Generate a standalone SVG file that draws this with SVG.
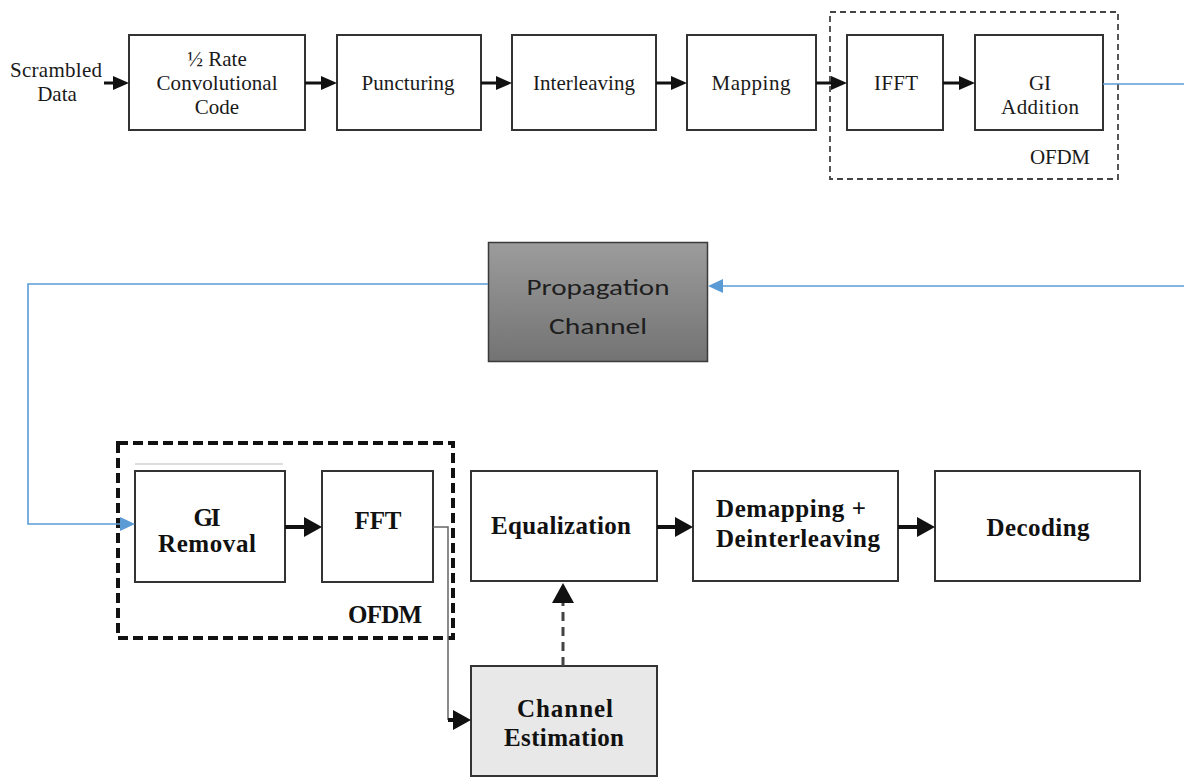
<svg xmlns="http://www.w3.org/2000/svg" width="1184" height="777" viewBox="0 0 1184 777">
<style>
.box{fill:#fff;stroke:#333;stroke-width:2}
.t{font-family:"Liberation Serif","Times New Roman",serif;font-size:21px;fill:#1a1a1a;text-anchor:middle}
.b{font-family:"Liberation Serif","Times New Roman",serif;font-size:25px;font-weight:bold;fill:#111;text-anchor:middle}
.ca{font-family:Carlito,Calibri,"Open Sans",sans-serif;font-size:23px;fill:#1e1e1e;text-anchor:middle}
.ar1{stroke:#111;stroke-width:3;fill:none}
.ar2{stroke:#111;stroke-width:4;fill:none}
.blue{stroke:#5b9bd5;stroke-width:1.6;fill:none}
</style>
<defs>
<marker id="a" markerUnits="userSpaceOnUse" viewBox="0 0 16 14" markerWidth="16" markerHeight="14" refX="8" refY="7" orient="auto"><path d="M0,0 L16,7 L0,14 Z" fill="#111"/></marker>
<marker id="b" markerUnits="userSpaceOnUse" viewBox="0 0 18 20" markerWidth="18" markerHeight="20" refX="9" refY="10" orient="auto"><path d="M0,0 L18,10 L0,20 Z" fill="#111"/></marker>
<marker id="c" markerUnits="userSpaceOnUse" viewBox="0 0 20 22" markerWidth="20" markerHeight="22" refX="8" refY="11" orient="auto"><path d="M0,0 L20,11 L0,22 Z" fill="#111"/></marker>
<marker id="bl" markerUnits="userSpaceOnUse" viewBox="0 0 15 14" markerWidth="15" markerHeight="14" refX="10" refY="7" orient="auto"><path d="M0,0 L15,7 L0,14 Z" fill="#5b9bd5"/></marker>
<linearGradient id="gr" x1="0" y1="0" x2="0" y2="1"><stop offset="0" stop-color="#9c9c9c"/><stop offset="1" stop-color="#737373"/></linearGradient>
</defs>

<g id="ofdm-tx">
<rect x="830" y="12" width="288" height="167" fill="none" stroke="#444" stroke-width="1.8" stroke-dasharray="6 4"/>
<text class="t" x="1060" y="164" textLength="60" lengthAdjust="spacing">OFDM</text>
</g>
<g id="ofdm-rx">
<rect x="118" y="443" width="335" height="195" fill="none" stroke="#111" stroke-width="4" stroke-dasharray="10 5"/>
<text class="b" x="385" y="623" textLength="74" lengthAdjust="spacing">OFDM</text>
</g>

<g id="scrambled">
<text class="t" x="56" y="77" font-size="18" textLength="92" lengthAdjust="spacing">Scrambled</text>
<text class="t" x="57" y="101" font-size="18">Data</text>
</g>
<g id="conv">
<rect class="box" x="129" y="35" width="176" height="95"/>
<text class="t" x="217" y="66">½ Rate</text>
<text class="t" x="217" y="90" textLength="121" lengthAdjust="spacing">Convolutional</text>
<text class="t" x="217" y="114">Code</text>
</g>
<g id="puncturing">
<rect class="box" x="337" y="35" width="144" height="95"/>
<text class="t" x="408" y="90" textLength="93" lengthAdjust="spacing">Puncturing</text>
</g>
<g id="interleaving">
<rect class="box" x="512" y="35" width="144" height="95"/>
<text class="t" x="584" y="90" textLength="102" lengthAdjust="spacing">Interleaving</text>
</g>
<g id="mapping">
<rect class="box" x="687" y="35" width="129" height="95"/>
<text class="t" x="751" y="90" textLength="79" lengthAdjust="spacing">Mapping</text>
</g>
<g id="ifft">
<rect class="box" x="847" y="35" width="96" height="95"/>
<text class="t" x="896" y="90" textLength="44" lengthAdjust="spacing">IFFT</text>
</g>
<g id="gi-add">
<rect class="box" x="975" y="35" width="128" height="95"/>
<text class="t" x="1040" y="90">GI</text>
<text class="t" x="1040" y="114" textLength="78" lengthAdjust="spacing">Addition</text>
</g>

<g id="propagation">
<rect x="488.5" y="242.5" width="219" height="119" fill="url(#gr)" stroke="#3a3a3a" stroke-width="1.5"/>
<text class="ca" x="598" y="295" textLength="143" lengthAdjust="spacingAndGlyphs">Propagation</text>
<text class="ca" x="598" y="334" textLength="98" lengthAdjust="spacingAndGlyphs">Channel</text>
</g>

<line x1="135" y1="464" x2="283" y2="464" stroke="#ddd" stroke-width="2"/>
<g id="gi-removal">
<rect class="box" x="135" y="471" width="150" height="111"/>
<text class="b" x="207" y="526" font-size="24" textLength="27" lengthAdjust="spacing">GI</text>
<text class="b" x="207" y="552" font-size="24" textLength="98" lengthAdjust="spacing">Removal</text>
</g>
<g id="fft">
<rect class="box" x="322" y="471" width="111" height="111"/>
<text class="b" x="378" y="529" textLength="47" lengthAdjust="spacing">FFT</text>
</g>
<g id="equalization">
<rect class="box" x="471" y="471" width="186" height="110"/>
<text class="b" x="561" y="534" textLength="140" lengthAdjust="spacing">Equalization</text>
</g>
<g id="demapping">
<rect class="box" x="693" y="471" width="205" height="110"/>
<text class="b" x="716" y="517" style="text-anchor:start" textLength="150" lengthAdjust="spacing">Demapping +</text>
<text class="b" x="716" y="547" style="text-anchor:start" textLength="164" lengthAdjust="spacing">Deinterleaving</text>
</g>
<g id="decoding">
<rect class="box" x="935" y="471" width="205" height="110"/>
<text class="b" x="1038" y="536" textLength="103" lengthAdjust="spacing">Decoding</text>
</g>
<g id="channel-est">
<rect x="471" y="666" width="186" height="110" fill="#e8e8e8" stroke="#333" stroke-width="2"/>
<text class="b" x="565" y="717" textLength="96" lengthAdjust="spacing">Channel</text>
<text class="b" x="564" y="746" textLength="120" lengthAdjust="spacing">Estimation</text>
</g>

<g id="connectors">
<line class="ar1" x1="104" y1="83" x2="121" y2="83" marker-end="url(#a)"/>
<line class="ar1" x1="305" y1="83" x2="329" y2="83" marker-end="url(#a)"/>
<line class="ar1" x1="481" y1="83" x2="504" y2="83" marker-end="url(#a)"/>
<line class="ar1" x1="656" y1="83" x2="679" y2="83" marker-end="url(#a)"/>
<line class="ar1" x1="816" y1="83" x2="839" y2="83" marker-end="url(#a)"/>
<line class="ar1" x1="943" y1="83" x2="967" y2="83" marker-end="url(#a)"/>
<line class="blue" x1="1103" y1="84" x2="1184" y2="84"/>
<line class="blue" x1="1184" y1="286" x2="713" y2="286" marker-end="url(#bl)"/>
<polyline class="blue" points="488,284 28,284 28,524 130,524" marker-end="url(#bl)"/>
<line class="ar2" x1="285" y1="527" x2="313" y2="527" marker-end="url(#b)"/>
<line class="ar2" x1="657" y1="527" x2="684" y2="527" marker-end="url(#b)"/>
<line class="ar2" x1="898" y1="527" x2="926" y2="527" marker-end="url(#b)"/>
<polyline points="433,527 448,527 448,720" fill="none" stroke="#666" stroke-width="1.5"/>
<line class="ar2" x1="448" y1="720" x2="462" y2="720" marker-end="url(#b)"/>
<line x1="563" y1="666" x2="563" y2="595" stroke="#444" stroke-width="3" stroke-dasharray="9 6" marker-end="url(#c)"/>
</g>
</svg>
